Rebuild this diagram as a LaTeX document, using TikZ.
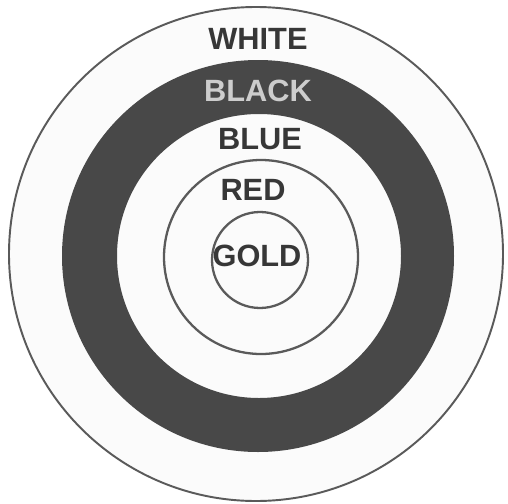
\documentclass[tikz,border=0pt]{standalone}
\usepackage{fontspec}
\setmainfont{Liberation Sans}
\definecolor{tgtring}{RGB}{72,72,72}
\definecolor{tgtline}{RGB}{90,90,90}
\definecolor{tgttext}{RGB}{55,55,55}
\definecolor{tgtlight}{RGB}{205,205,205}
\usetikzlibrary{positioning}

\begin{document}
\begin{tikzpicture}[
  every node/.style={font=\fontsize{17.5}{20}\selectfont\bfseries,inner sep=0pt},
  ringlabel/.style={text=tgttext},
  ringline/.style={draw=tgtline,line width=1.1pt},
]
  \useasboundingbox (0,0) rectangle (10.16,10.06);

  % outer white face
  \fill[white] (0,0) rectangle (10.16,10.06);
  \draw[ringline,fill=white!97!gray] (5.12,4.98) circle (4.94);

  % black ring
  \fill[tgtring,even odd rule] (5.16,4.94) circle (3.92) (5.18,4.94) circle (2.84);

  % red and gold circles
  \draw[ringline,line width=1.3pt] (5.22,4.92) circle (1.94);
  \draw[ringline,line width=1.3pt] (5.20,4.86) circle (0.96);

  % labels
  \node[ringlabel] (white) at (5.16,9.28) {WHITE};
  \node[text=tgtlight] (black) at (5.16,8.24) {BLACK};
  \node[ringlabel] (blue) at (5.20,7.28) {BLUE};
  \node[ringlabel] (red) at (5.06,6.26) {RED};
  \node[ringlabel] (gold) at (5.14,4.94) {GOLD};
\end{tikzpicture}
\end{document}
